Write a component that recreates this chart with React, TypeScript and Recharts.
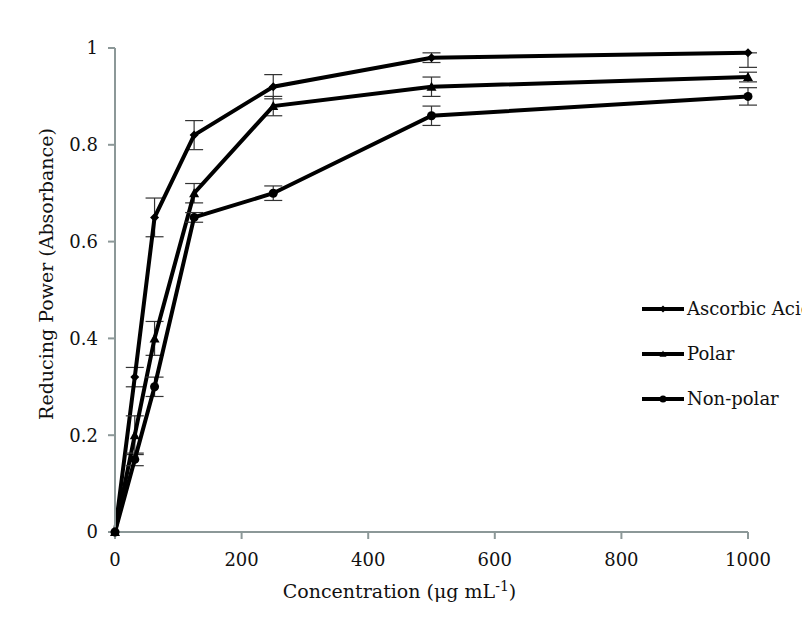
import React from 'react'
import {
  LineChart,
  Line,
  XAxis,
  YAxis,
  ErrorBar,
  Label
} from 'recharts'

const conc = [0, 31.25, 62.5, 125, 250, 500, 1000]
const ascorbic = [0, 0.32, 0.65, 0.82, 0.92, 0.98, 0.99]
const ascorbicErr: (number | number[])[] = [0, 0.02, 0.04, 0.03, 0.025, 0.01, [0.03, 0]]
const polar = [0, 0.2, 0.4, 0.7, 0.88, 0.92, 0.94]
const polarErr = [0, 0.04, 0.035, 0.02, 0.02, 0.02, 0.01]
const nonPolar = [0, 0.15, 0.3, 0.65, 0.7, 0.86, 0.9]
const nonPolarErr = [0, 0.013, 0.02, 0.01, 0.015, 0.02, 0.018]

const xTicks = [0, 200, 400, 600, 800, 1000]
const yTicks = [0, 0.2, 0.4, 0.6, 0.8, 1]

const data = conc.map((c, i) => ({
  conc: c,
  ascorbic: ascorbic[i],
  ascorbicErr: ascorbicErr[i],
  polar: polar[i],
  polarErr: polarErr[i],
  nonPolar: nonPolar[i],
  nonPolarErr: nonPolarErr[i]
}))

const FONT = '"DejaVu Serif", "Liberation Serif", serif'
const AXIS = '#8c9898'

// marker shapes
const Diamond = ({ cx, cy, s = 4.5 }: any) => (
  <path d={`M${cx},${cy - s}L${cx + s},${cy}L${cx},${cy + s}L${cx - s},${cy}Z`} fill="#000" />
)
const Triangle = ({ cx, cy, s = 5 }: any) => (
  <path d={`M${cx},${cy - s}L${cx + s},${cy + s * 0.8}L${cx - s},${cy + s * 0.8}Z`} fill="#000" />
)
const Circle = ({ cx, cy, s = 4.5 }: any) => <circle cx={cx} cy={cy} r={s} fill="#000" />

const series = [
  { key: 'ascorbic', err: 'ascorbicErr', name: 'Ascorbic Acid', Marker: Diamond },
  { key: 'polar', err: 'polarErr', name: 'Polar', Marker: Triangle },
  { key: 'nonPolar', err: 'nonPolarErr', name: 'Non-polar', Marker: Circle }
]

function LegendBox() {
  return (
    <div
      style={{
        position: 'absolute',
        left: 634,
        top: 278,
        fontFamily: FONT,
        fontSize: 18,
        color: '#111'
      }}
    >
      {series.map(({ name, Marker }) => (
        <div key={name} style={{ display: 'flex', alignItems: 'center', height: 45, whiteSpace: 'nowrap' }}>
          <svg width={42} height={12} style={{ marginRight: 3 }}>
            <line x1={0} y1={6} x2={42} y2={6} stroke="#000" strokeWidth={4} />
            <Marker cx={21} cy={6} s={3.5} />
          </svg>
          <span>{name}</span>
        </div>
      ))}
    </div>
  )
}

export default function App() {
  return (
    <div style={{ position: 'relative', width: 802, height: 614, overflow: 'hidden', background: '#fff' }}>
      <LineChart
        width={802}
        height={614}
        data={data}
        margin={{ top: 40, right: 62, bottom: 30, left: 0 }}
      >
        <XAxis
          dataKey="conc"
          type="number"
          domain={[0, 1000]}
          ticks={xTicks}
          height={60}
          stroke={AXIS}
          strokeWidth={2}
          tickSize={7}
          tickMargin={14}
          tick={{ fill: '#111', fontFamily: FONT, fontSize: 18 }}
        >
          <Label
            content={({ viewBox }: any) => (
              <text
                x={viewBox.x + viewBox.width / 2 - 32}
                y={viewBox.y + 66}
                textAnchor="middle"
                fontFamily={FONT}
                fontSize={19}
                fill="#111"
              >
                Concentration (μg mL
                <tspan dy={-7} fontSize={14}>-1</tspan>
                <tspan dy={7}>)</tspan>
              </text>
            )}
          />
        </XAxis>
        <YAxis
          type="number"
          domain={[0, 1]}
          ticks={yTicks}
          width={107}
          stroke={AXIS}
          strokeWidth={2}
          tickSize={7}
          tickMargin={10}
          tick={{ fill: '#111', fontFamily: FONT, fontSize: 18 }}
        >
          <Label
            content={({ viewBox }: any) => (
              <text
                x={0}
                y={0}
                transform={`translate(${viewBox.x + 45}, ${viewBox.y + viewBox.height / 2 - 16}) rotate(-90)`}
                textAnchor="middle"
                fontFamily={FONT}
                fontSize={19}
                fill="#111"
              >
                Reducing Power (Absorbance)
              </text>
            )}
          />
        </YAxis>
        {series.map(({ key, err, name, Marker }) => (
          <Line
            key={key}
            dataKey={key}
            name={name}
            stroke="#000"
            strokeWidth={4}
            isAnimationActive={false}
            dot={(p: any) => <Marker key={`${key}-${p.index}`} cx={p.cx} cy={p.cy} />}
            activeDot={false}
          >
            <ErrorBar dataKey={err} direction="y" width={9} strokeWidth={1.2} stroke="#333" />
          </Line>
        ))}
      </LineChart>
      <LegendBox />
    </div>
  )
}
